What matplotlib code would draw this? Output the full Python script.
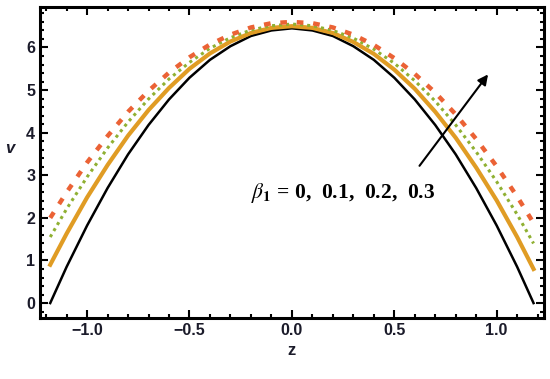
import numpy as np
import matplotlib
matplotlib.use('Agg')
import matplotlib.pyplot as plt
import matplotlib.ticker as ticker

# z grid shared by all curves
z_values = [-1.18, -1.1, -1.0, -0.9, -0.8, -0.7, -0.6, -0.5, -0.4, -0.3, -0.2, -0.1, 0.0,
            0.1, 0.2, 0.3, 0.4, 0.5, 0.6, 0.7, 0.8, 0.9, 1.0, 1.1, 1.18]

# velocity profiles, beta_1 = 0, 0.1, 0.2, 0.3
v_beta_0 = [0.0, 0.85, 1.82, 2.70, 3.49, 4.18, 4.78, 5.29, 5.71, 6.03, 6.27, 6.40, 6.45,
            6.40, 6.27, 6.03, 5.71, 5.29, 4.78, 4.18, 3.49, 2.70, 1.82, 0.85, 0.0]
v_beta_01 = [0.90, 1.63, 2.48, 3.24, 3.93, 4.53, 5.05, 5.50, 5.86, 6.14, 6.34, 6.46, 6.50,
             6.46, 6.34, 6.13, 5.85, 5.48, 5.03, 4.49, 3.88, 3.18, 2.41, 1.55, 0.80]
v_beta_02 = [1.55, 2.21, 2.96, 3.64, 4.25, 4.79, 5.26, 5.65, 5.98, 6.23, 6.41, 6.51, 6.55,
             6.51, 6.40, 6.22, 5.96, 5.63, 5.22, 4.74, 4.18, 3.55, 2.85, 2.08, 1.40]
v_beta_03 = [2.00, 2.60, 3.30, 3.92, 4.49, 4.98, 5.41, 5.77, 6.07, 6.30, 6.47, 6.57, 6.60,
             6.57, 6.47, 6.30, 6.06, 5.75, 5.38, 4.94, 4.43, 3.85, 3.21, 2.50, 1.88]

fig = plt.figure(figsize=(5.5, 3.79), dpi=100)
ax = fig.add_axes([0.0727, 0.161, 0.916, 0.8205])

ax.plot(z_values, v_beta_0, color='black', lw=1.8)
ax.plot(z_values, v_beta_01, color='#E09C24', lw=3.0)
ax.plot(z_values, v_beta_02, color='#8FB032', lw=2.2, ls=(0, (1, 1.3)))
ax.plot(z_values, v_beta_03, color='#EB6235', lw=3.2, ls=(0, (1.5, 2.2)))

ax.set_xlim(-1.23, 1.23)
ax.set_ylim(-0.35, 6.95)

ax.xaxis.set_major_locator(ticker.MultipleLocator(0.5))
ax.xaxis.set_minor_locator(ticker.MultipleLocator(0.1))
ax.yaxis.set_major_locator(ticker.MultipleLocator(1))
ax.yaxis.set_minor_locator(ticker.MultipleLocator(0.2))
ax.xaxis.set_major_formatter(ticker.FuncFormatter(lambda x, p: f'{x:.1f}'.replace('-', '\u2212')))

ax.tick_params(which='both', direction='in', top=True, right=True, width=1.5, color='black')
ax.tick_params(which='major', length=6)
ax.tick_params(which='minor', length=3)
for lab in ax.get_xticklabels() + ax.get_yticklabels():
    lab.set_fontweight('bold')
    lab.set_fontsize(11.5)
    lab.set_color('#1b1b2a')
    lab.set_family('Liberation Sans')
for sp in ax.spines.values():
    sp.set_linewidth(2.2)

ax.set_xlabel('z', fontsize=12, fontweight='bold', family='Liberation Sans', color='#1b1b2a')
ax.set_ylabel('v', fontsize=12, fontweight='bold', style='italic', family='Liberation Sans',
              color='#1b1b2a', rotation=0, labelpad=10)
ax.yaxis.set_label_coords(-0.06, 0.52)

ax.annotate('', xy=(0.966, 5.42), xytext=(0.615, 3.17),
            arrowprops=dict(arrowstyle='-|>', color='black', lw=1.5, mutation_scale=15))
ax.text(0.25, 2.58, r'$\beta_{\mathbf{1}}$ = 0,  0.1,  0.2,  0.3', ha='center', va='center',
        fontsize=15.5, fontweight='bold', family='Liberation Serif',
        math_fontfamily='stix')

fig.savefig('out.png', dpi=100)
